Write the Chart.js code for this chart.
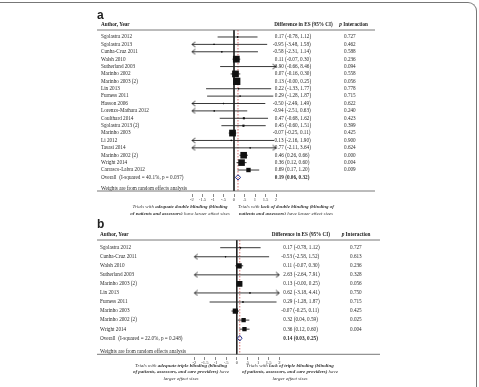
<!DOCTYPE html>
<html>
<head>
<meta charset="utf-8">
<script src="https://cdn.jsdelivr.net/npm/chart.js@4.4.0/dist/chart.umd.min.js"></script>
<style>
  html, body { margin: 0; padding: 0; background: #fff; }
  #wrap { position: relative; width: 479px; height: 387px; overflow: hidden; }
  #frame { position: absolute; left: -12px; top: 2px; width: 488px; height: 420px;
           border-top: 1px solid #777; border-right: 1px solid #777; border-top-right-radius: 9px; }
  canvas { position: absolute; left: 0; }
  #ca { top: 0; }
  #cb { top: 215px; }
</style>
</head>
<body>
<div id="wrap">
  <div id="frame"></div>
  <canvas id="ca" width="479" height="215"></canvas>
  <canvas id="cb" width="479" height="172"></canvas>
</div>
<script>
// ---- panel a : double blinding ----
var studiesA = ['Sgolastra 2012', 'Sgolastra 2013', 'Cunha-Cruz 2011', 'Walsh 2010', 'Sutherland 2003',
  'Marinho 2002', 'Marinho 2003 (2)', 'Lin 2013', 'Furness 2011', 'Hasson 2006', 'Lorenzo-Mathara 2012',
  'Coulthard 2014', 'Sgolastra 2013 (2)', 'Marinho 2003', 'Li 2012', 'Tasasi 2014', 'Marinho 2002 (2)',
  'Wright 2014', 'Carrasco-Labra 2012'];
var esA   = [0.17, -0.95, -0.58, 0.11, 3.90, 0.07, 0.13, 0.22, 0.29, -0.50, -0.94, 0.47, 0.45, -0.07, -0.13, 0.77, 0.46, 0.36, 0.69];
var lowA  = [-0.78, -3.48, -2.31, -0.07, -0.66, -0.16, -0.004, -1.33, -1.28, -2.49, -2.51, -0.68, -0.60, -0.25, -2.16, -2.11, 0.26, 0.12, 0.17];
var highA = [1.12, 1.58, 1.14, 0.30, 8.46, 0.30, 0.25, 1.77, 1.87, 1.49, 0.63, 1.62, 1.51, 0.11, 1.90, 3.64, 0.66, 0.60, 1.20];
var pA    = ['0.727', '0.462', '0.588', '0.236', '0.094', '0.558', '0.056', '0.778', '0.715', '0.622', '0.240',
  '0.423', '0.399', '0.425', '0.900', '0.624', '0.000', '0.004', '0.009'];
var weightA = [0.6, 0.1, 0.2, 14.1, 0.05, 14.1, 16.4, 0.2, 0.2, 0.2, 0.25, 1.3, 1.4, 14.1, 0.1, 0.05, 13.4, 13.4, 5.9];
var overallA = [0.19, 0.06, 0.32];
var overallLabelA = 'Overall  (I-squared = 40.1%, p = 0.037)';

// ---- panel b : triple blinding ----
var studiesB = ['Sgolastra 2012', 'Cunha-Cruz 2011', 'Walsh 2010', 'Sutherland 2003', 'Marinho 2003 (2)',
  'Lin 2013', 'Furness 2011', 'Marinho 2003', 'Marinho 2002 (2)', 'Wright 2014'];
var esB   = [0.17, -0.53, 0.11, 2.63, 0.13, 0.62, 0.29, -0.07, 0.32, 0.36];
var lowB  = [-0.78, -2.58, -0.07, -2.64, -0.004, -3.18, -1.28, -0.25, 0.04, 0.12];
var highB = [1.12, 1.52, 0.30, 7.91, 0.25, 4.41, 1.87, 0.11, 0.59, 0.60];
var pB    = ['0.727', '0.613', '0.236', '0.328', '0.056', '0.750', '0.715', '0.425', '0.025', '0.004'];
var weightB = [1.4, 0.9, 20.4, 0.3, 24.4, 0.4, 1.3, 20.4, 14.3, 14.3];
var overallB = [0.14, 0.03, 0.25];
var overallLabelB = 'Overall  (I-squared = 22.0%, p = 0.248)';

var tickLabels = ['-2', '-1.5', '-1', '-.5', '0', '.5', '1', '1.5', '2'];
var weightNote = 'Weights are from random effects analysis';

var notesA = {
  left: [[['Trials with ', 0], ['adequate double blinding (blinding', 1]],
         [['of patients and assessors)', 1], [' have larger effect sizes', 0]]],
  right: [[['Trials with ', 0], ['lack of double blinding (blinding of', 1]],
          [['patients and assessors)', 1], [' have larger effect sizes', 0]]]
};
var notesB = {
  left: [[['Trials with ', 0], ['adequate triple blinding (blinding', 1]],
         [['of patients, assessors, and care providers)', 1], [' have', 0]],
         [['larger effect sizes', 0]]],
  right: [[['Trials with ', 0], ['lack of triple blinding (blinding', 1]],
          [['of patients, assessors, and care providers)', 1], [' have', 0]],
          [['larger effect sizes', 0]]]
};

var SERIF = '"Liberation Serif", "Times New Roman", serif';

function fmt(v) { return v.toFixed(2); }

function arrowImg(dir) {
  var c = document.createElement('canvas');
  c.width = 9; c.height = 7;
  var g = c.getContext('2d');
  g.strokeStyle = '#222'; g.lineWidth = 0.9;
  g.beginPath();
  if (dir < 0) { g.moveTo(7.8, 1); g.lineTo(4.5, 3.5); g.lineTo(7.8, 6); }
  else { g.moveTo(1.2, 1); g.lineTo(4.5, 3.5); g.lineTo(1.2, 6); }
  g.stroke();
  return c;
}
var leftArrow = arrowImg(-1), rightArrow = arrowImg(1);

function drawRich(ctx, parts, cx, y, size) {
  var fonts = parts.map(function (p) { return (p[1] ? 'italic bold ' : 'italic ') + size + 'px ' + SERIF; });
  var w = 0;
  parts.forEach(function (p, i) { ctx.font = fonts[i]; w += ctx.measureText(p[0]).width; });
  var x = cx - w / 2;
  parts.forEach(function (p, i) { ctx.font = fonts[i]; ctx.fillText(p[0], x, y); x += ctx.measureText(p[0]).width; });
}

function makePanel(id, L, names, es, low, high, pv, weight, overall, overallLabel, notes) {
  var n = names.length;
  var ci = [], lArr = [], rArr = [], boxes = [], dots = [], sizes = [];
  for (var i = 0; i < n; i++) {
    ci.push({ x: Math.max(low[i], -2), y: i }, { x: Math.min(high[i], 2), y: i }, { x: null, y: null });
    if (low[i] < -2) lArr.push({ x: -2, y: i });
    if (high[i] > 2) rArr.push({ x: 2, y: i });
    var inside = Math.abs(es[i]) <= 2;
    boxes.push({ x: inside ? es[i] : null, y: i });
    dots.push({ x: inside ? es[i] : null, y: i });
    sizes.push(Math.max(L.boxK * Math.sqrt(weight[i]), 1.2) / Math.SQRT2);
  }
  var d = L.diamondHalf;
  var diamond = [{ x: overall[1], y: n }, { x: overall[0], y: n - d }, { x: overall[2], y: n },
                 { x: overall[0], y: n + d }, { x: overall[1], y: n }];

  var table = {
    id: 'table',
    afterDraw: function (chart) {
      var ctx = chart.ctx, ys = chart.scales.y;
      ctx.save();
      ctx.fillStyle = '#222';
      ctx.textBaseline = 'alphabetic';
      ctx.font = 'bold 12px "Liberation Sans", Arial, sans-serif';
      ctx.fillText(L.letter, 97, L.letterY);

      ctx.textBaseline = 'middle';
      ctx.font = 'bold ' + L.fs + 'px ' + SERIF;
      ctx.fillText('Author, Year', L.nameX, L.headY);
      ctx.fillText('Difference in ES (95% CI)', L.esHeadX, L.headY);
      ctx.font = 'italic bold ' + L.fs + 'px ' + SERIF;
      ctx.fillText('p', L.pHeadX, L.headY);
      var pw = ctx.measureText('p ').width;
      ctx.font = 'bold ' + L.fs + 'px ' + SERIF;
      ctx.fillText('Interaction', L.pHeadX + pw, L.headY);

      ctx.font = L.fs + 'px ' + SERIF;
      ctx.fillStyle = '#2a2a2a';
      var dash = ctx.measureText('-').width + 0.4;
      for (var i = 0; i < n; i++) {
        var y = ys.getPixelForValue(i);
        ctx.fillText(names[i], L.nameX, y);
        ctx.fillText(fmt(es[i]) + ' (' + fmt(low[i]) + ', ' + fmt(high[i]) + ')', L.esX + (es[i] < 0 ? -dash : 0), y);
        ctx.fillText(pv[i], L.pX, y);
      }
      var yo = ys.getPixelForValue(n);
      ctx.fillText(overallLabel, L.nameX, yo);
      ctx.fillText(weightNote, L.nameX, ys.getPixelForValue(L.weightRow));
      ctx.font = 'bold ' + L.fs + 'px ' + SERIF;
      ctx.fillText(fmt(overall[0]) + ' (' + fmt(overall[1]) + ', ' + fmt(overall[2]) + ')', L.esX, yo);

      // table rules
      ctx.strokeStyle = '#555'; ctx.lineWidth = 0.8;
      [ys.getPixelForValue(ys.min), ys.getPixelForValue(L.baseRow)].forEach(function (yy) {
        ctx.beginPath(); ctx.moveTo(L.ruleL, yy); ctx.lineTo(L.ruleR, yy); ctx.stroke();
      });

      // footnotes
      ctx.fillStyle = '#333';
      notes.left.forEach(function (ln, k) { drawRich(ctx, ln, L.noteLX, L.noteY[k], L.nfs); });
      notes.right.forEach(function (ln, k) { drawRich(ctx, ln, L.noteRX, L.noteY[k], L.nfs); });
      ctx.restore();
    }
  };

  return new Chart(document.getElementById(id), {
    type: 'scatter',
    data: {
      datasets: [
        { data: [{ x: 0, y: L.yMin }, { x: 0, y: L.baseRow }], showLine: true, borderColor: '#111', borderWidth: 0.8, pointRadius: 0, order: 10 },
        { data: [{ x: overall[0], y: L.yMin }, { x: overall[0], y: L.baseRow }], showLine: true, borderColor: '#d04a4a', borderWidth: 0.8, borderDash: [1.5, 1.5], pointRadius: 0, order: 9 },
        { data: ci, showLine: true, spanGaps: false, borderColor: '#222', borderWidth: 0.9, pointRadius: 0, order: 6 },
        { data: lArr, pointStyle: leftArrow, pointRadius: 3, clip: false, order: 5 },
        { data: rArr, pointStyle: rightArrow, pointRadius: 3, clip: false, order: 5 },
        { data: boxes, pointStyle: 'rect', pointRadius: sizes, backgroundColor: '#111', pointBorderWidth: 0, borderWidth: 0, order: 4 },
        { data: dots, pointStyle: 'circle', pointRadius: 0.7, backgroundColor: '#111', pointBorderWidth: 0, borderWidth: 0, order: 3 },
        { data: diamond, showLine: true, borderColor: '#2b3990', backgroundColor: '#fff', fill: true, borderWidth: 1, pointRadius: 0, order: 1 }
      ]
    },
    options: {
      responsive: false,
      animation: false,
      devicePixelRatio: 1,
      events: [],
      layout: { padding: { left: L.left, right: 479 - L.right, top: L.top, bottom: L.padBottom } },
      plugins: { legend: { display: false }, tooltip: { enabled: false } },
      scales: {
        x: {
          type: 'linear', min: -2, max: 2, position: 'bottom',
          afterFit: function (s) { s.height = 12; },
          border: { display: false },
          grid: { display: true, drawOnChartArea: false, drawTicks: true, tickLength: 3, color: '#555', lineWidth: 0.7 },
          ticks: { stepSize: 0.5, autoSkip: false, maxRotation: 0, padding: 0.5, color: '#444',
                   font: { family: 'Liberation Serif', size: 4.6 },
                   callback: function (v, i) { return tickLabels[i]; } }
        },
        y: { type: 'linear', display: false, reverse: true, min: L.yMin, max: L.yMax }
      }
    },
    plugins: [table]
  });
}

makePanel('ca', {
  letter: 'a', letterY: 19, left: 192, right: 276, top: 30, padBottom: 9,
  yMin: -0.947, yMax: 21.245, baseRow: 20.84, weightRow: 20.47,
  boxK: 1.8, diamondHalf: 0.34,
  fs: 5.2, nfs: 5, headY: 25, nameX: 101, esHeadX: 274.3, pHeadX: 339.3, esX: 274.8, pX: 344,
  ruleL: 97, ruleR: 375, noteLX: 180, noteRX: 286, noteY: [206.7, 213.3]
}, studiesA, esA, lowA, highA, pA, weightA, overallA, overallLabelA, notesA);

makePanel('cb', {
  letter: 'b', letterY: 13.3, left: 194.3, right: 279.3, top: 25, padBottom: 18,
  yMin: -0.851, yMax: 12.077, baseRow: 11.78, weightRow: 11.49,
  boxK: 1.15, diamondHalf: 0.31,
  fs: 5.2, nfs: 5, headY: 19.3, nameX: 100, esHeadX: 271.7, pHeadX: 341.7, esX: 283.3, pX: 350,
  ruleL: 97, ruleR: 380, noteLX: 181, noteRX: 290, noteY: [151, 157, 163.7]
}, studiesB, esB, lowB, highB, pB, weightB, overallB, overallLabelB, notesB);
</script>
</body>
</html>
